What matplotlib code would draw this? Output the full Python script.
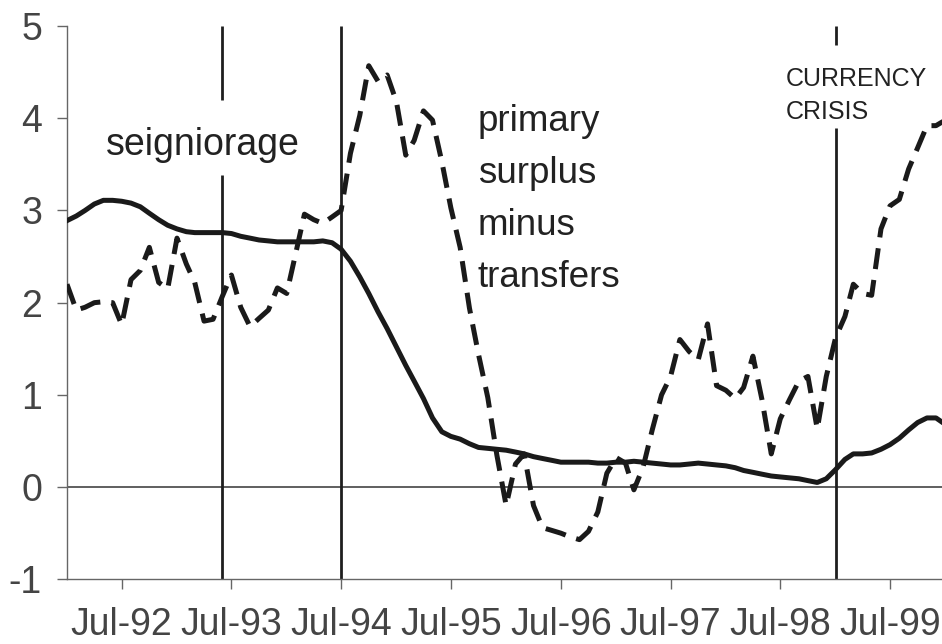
import matplotlib.pyplot as plt
import pandas as pd

plt.rcParams['font.family'] = ['Liberation Sans', 'DejaVu Sans']

# monthly, Jan-92 .. Jan-00 (percent of GDP)
months = pd.date_range("1992-01-01", "2000-01-01", freq="MS")

seigniorage = [
    2.89, 2.94, 3.00, 3.07, 3.11, 3.11, 3.10, 3.08, 3.04, 2.97, 2.90, 2.84,
    2.80, 2.77, 2.76, 2.76, 2.76, 2.76, 2.75, 2.72, 2.70, 2.68, 2.67, 2.66,
    2.66, 2.66, 2.66, 2.66, 2.67, 2.65, 2.58, 2.45, 2.28, 2.10, 1.90, 1.72,
    1.52, 1.32, 1.15, 0.96, 0.75, 0.60, 0.55, 0.52, 0.47, 0.43, 0.42, 0.41,
    0.40, 0.38, 0.36, 0.33, 0.31, 0.29, 0.27, 0.27, 0.27, 0.27, 0.26, 0.26,
    0.27, 0.27, 0.28, 0.27, 0.26, 0.25, 0.24, 0.24, 0.25, 0.26, 0.25, 0.24,
    0.23, 0.21, 0.18, 0.16, 0.14, 0.12, 0.11, 0.10, 0.09, 0.07, 0.05, 0.09,
    0.19, 0.30, 0.36, 0.36, 0.37, 0.41, 0.46, 0.53, 0.62, 0.70, 0.75, 0.75,
    0.68,
]

primary_surplus = [
    2.20, 1.92, 1.95, 2.00, 2.01, 2.00, 1.76, 2.25, 2.35, 2.60, 2.22, 2.15,
    2.70, 2.42, 2.22, 1.80, 1.82, 2.07, 2.30, 1.95, 1.74, 1.83, 1.92, 2.16,
    2.10, 2.55, 2.96, 2.90, 2.86, 2.93, 3.00, 3.62, 4.03, 4.57, 4.40, 4.47,
    4.18, 3.60, 3.76, 4.08, 3.98, 3.53, 3.03, 2.60, 1.94, 1.44, 0.97, 0.35,
    -0.20, 0.25, 0.36, -0.20, -0.44, -0.47, -0.50, -0.54, -0.57, -0.48, -0.27, 0.15,
    0.32, 0.26, -0.03, 0.22, 0.62, 1.00, 1.20, 1.60, 1.47, 1.38, 1.77, 1.10,
    1.05, 0.96, 1.08, 1.42, 0.95, 0.36, 0.74, 0.95, 1.15, 1.20, 0.63, 1.20,
    1.62, 1.85, 2.20, 2.10, 2.08, 2.80, 3.05, 3.12, 3.45, 3.68, 3.92, 3.92,
    3.98,
]

tick_labels = ["Jul-92", "Jul-93", "Jul-94", "Jul-95", "Jul-96", "Jul-97", "Jul-98", "Jul-99"]
y_ticks = [-1, 0, 1, 2, 3, 4, 5]

# event lines and the pieces left after the gap for the labels
events = pd.to_datetime(["1993-06-01", "1994-07-01", "1999-01-01"])
event_spans = [[(-1, 3.38), (4.20, 5)], [(-1, 5)], [(-1, 3.90), (4.79, 5)]]

fig = plt.figure(figsize=(9.42, 6.44), dpi=100)
ax = fig.add_axes([0.0711, 0.1005, 0.9289, 0.859])

ax.axhline(0, color='#444444', lw=1.2, zorder=1)
for date, spans in zip(events, event_spans):
    for lo, hi in spans:
        ax.vlines(date, lo, hi, color='#1e1e1e', lw=2.0, zorder=2)

ax.plot(months, seigniorage, color='#1a1a1a', lw=3.6,
        solid_joinstyle='round', zorder=3)
ax.plot(months, primary_surplus, color='#1a1a1a', lw=3.6, dashes=(4.2, 2.2),
        dash_capstyle='butt', dash_joinstyle='round', zorder=3)

ax.text(pd.Timestamp("1992-05-10"), 3.60, "seigniorage", fontsize=27,
        color='#222222', va='baseline', ha='left')
ax.text(pd.Timestamp("1995-09-29"), 4.16, "primary\nsurplus\nminus\ntransfers",
        fontsize=26.5, color='#222222', va='top', ha='left', linespacing=1.64)
ax.text(pd.Timestamp("1998-07-20"), 4.56, "CURRENCY\nCRISIS", fontsize=18,
        color='#222222', va='top', ha='left', linespacing=1.5)

ax.set_xlim(pd.Timestamp("1992-01-01"), pd.Timestamp("1999-12-21"))
ax.set_ylim(-1, 5)
ax.set_xticks(pd.to_datetime(tick_labels, format="%b-%y"), tick_labels)
ax.set_yticks(y_ticks, [str(v) for v in y_ticks])

ax.tick_params(axis='x', direction='out', length=7, width=1, color='#666666',
               pad=13, labelsize=27, labelcolor='#444444')
ax.tick_params(axis='y', direction='out', length=7, width=1, color='#666666',
               pad=11, labelsize=27, labelcolor='#444444')
for side in ['top', 'right']:
    ax.spines[side].set_visible(False)
for side in ['left', 'bottom']:
    ax.spines[side].set_color('#666666')
    ax.spines[side].set_linewidth(1.0)

fig.savefig("out.png", dpi=100)
